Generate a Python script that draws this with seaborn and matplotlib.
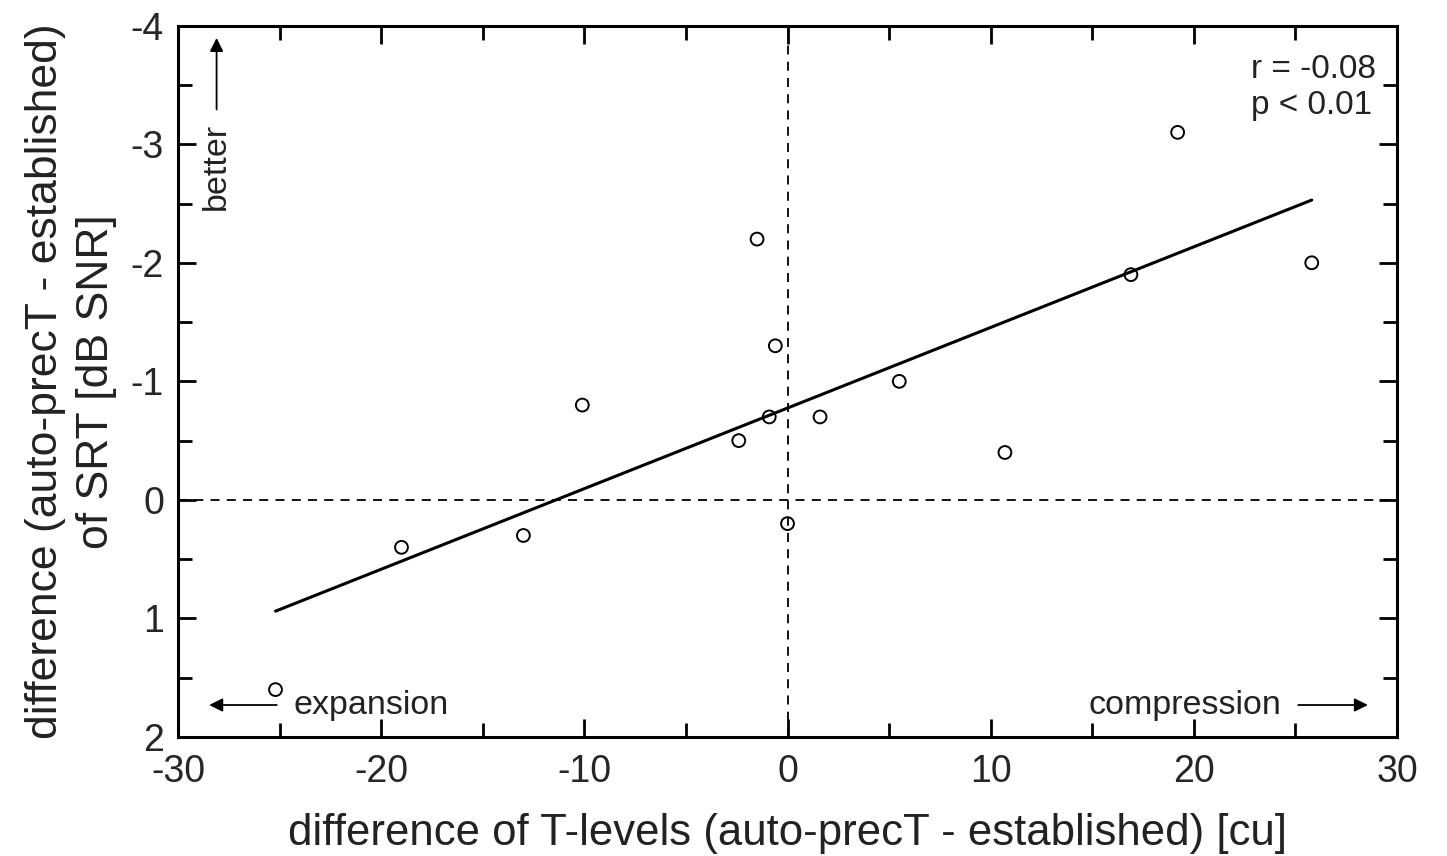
import numpy as np
import pandas as pd
import seaborn as sns
import matplotlib.pyplot as plt
from matplotlib.ticker import MultipleLocator

# values
t_level_diff = [-25.2, -19.0, -13.0, -10.1, -2.4, -1.5, -0.9, -0.6, 0.0,
                1.6, 5.5, 10.7, 16.9, 19.2, 25.8]
srt_diff = [1.6, 0.4, 0.3, -0.8, -0.5, -2.2, -0.7, -1.3, 0.2,
            -0.7, -1.0, -0.4, -1.9, -3.1, -2.0]
stats_text = "r = -0.08\np < 0.01"

data = pd.DataFrame({"dT": t_level_diff, "dSRT": srt_diff})

sns.set_style("ticks")
plt.rcParams['font.family'] = ['Liberation Sans', 'DejaVu Sans']
plt.rcParams['axes.unicode_minus'] = False

fig, ax = plt.subplots(figsize=(14.47, 8.56), dpi=100)
fig.subplots_adjust(left=0.123, right=0.9655, top=0.970, bottom=0.139)

# reference lines
ax.axvline(0, color='black', lw=1.3, ls=(0, (5, 4)), zorder=1)
ax.axhline(0, color='black', lw=1.3, ls=(0, (5, 4)), zorder=1)

# regression line + points
sns.regplot(x="dT", y="dSRT", data=data, scatter=False, ci=None, ax=ax,
            line_kws=dict(color='black', lw=2.2))
sns.scatterplot(x="dT", y="dSRT", data=data, ax=ax, marker='o', s=85,
                facecolors='none', edgecolor='black', linewidth=1.4, zorder=3)

ax.set_xlim(-30, 30)
ax.set_ylim(2, -4)
ax.xaxis.set_major_locator(MultipleLocator(10))
ax.xaxis.set_minor_locator(MultipleLocator(5))
ax.yaxis.set_major_locator(MultipleLocator(1))
ax.yaxis.set_minor_locator(MultipleLocator(0.5))

ax.tick_params(which='both', direction='in', top=True, right=True,
               color='black', width=2)
ax.tick_params(which='major', length=13, labelsize=27)
ax.tick_params(axis='x', which='major', pad=12)
ax.tick_params(axis='y', which='major', pad=10)
ax.tick_params(which='minor', length=10)
for s in ax.spines.values():
    s.set_linewidth(2.2)
    s.set_color('black')

ax.set_xlabel("difference of T-levels (auto-precT - established) [cu]",
              fontsize=31.5, labelpad=17, color='#222222')
ax.set_ylabel("difference (auto-precT - established)\nof SRT [dB SNR]",
              fontsize=32, labelpad=10, linespacing=1.3, color='#222222')

# annotations
arrow = dict(arrowstyle='-|>', color='black', lw=1.3, mutation_scale=20)
ax.annotate("", xy=(-28.1, -3.92), xytext=(-28.1, -3.27), arrowprops=arrow)
ax.text(-28.1, -2.81, "better", rotation=90, ha='center', va='center',
        fontsize=24.5, color='#222222')
ax.annotate("", xy=(-28.6, 1.73), xytext=(-25.0, 1.73), arrowprops=arrow)
ax.text(-24.3, 1.73, "expansion", ha='left', va='center', fontsize=24.5,
        color='#222222')
ax.annotate("", xy=(28.7, 1.73), xytext=(25.0, 1.73), arrowprops=arrow)
ax.text(24.3, 1.73, "compression", ha='right', va='center', fontsize=24.5,
        color='#222222')
ax.text(22.8, -3.76, stats_text, ha='left', va='top', fontsize=24,
        linespacing=1.2, color='#222222')

plt.savefig("out.png", dpi=100)
